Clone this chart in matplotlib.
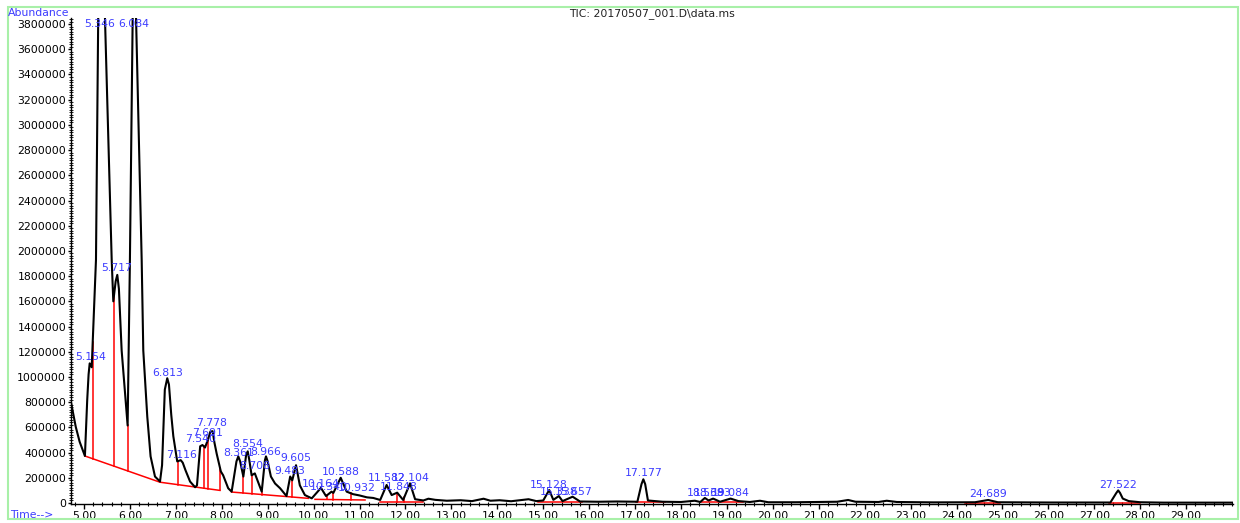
"""
plot.py - TIC chromatogram (20170507_001.D) with integration baselines

Trace vertices, baselines and peak labels are read off the reference
picture by eye; times in minutes, abundance in counts.
"""

import numpy as np
import matplotlib.pyplot as plt
from matplotlib.patches import Rectangle
from matplotlib.ticker import FixedLocator, MultipleLocator, FuncFormatter

# --- Total ion chromatogram (peak tops, shoulders and valleys) ---
trace_time = [
    4.717, 4.82, 4.905, 5.02, 5.07, 5.10, 5.124, 5.168, 5.261, 5.346,
    5.603, 5.638, 5.69, 5.725, 5.76, 5.82, 5.95, 6.00, 6.084, 6.256,
    6.291, 6.378, 6.45, 6.546, 6.655, 6.70, 6.76, 6.813, 6.85, 6.90,
    6.945, 7.03, 7.106, 7.15, 7.21, 7.31, 7.42, 7.46, 7.53, 7.58,
    7.635, 7.707, 7.75, 7.80, 7.84, 7.89, 7.98, 8.03, 8.14, 8.215,
    8.32, 8.36, 8.40, 8.47, 8.53, 8.565, 8.60, 8.65, 8.72, 8.87,
    8.94, 8.963, 9.00, 9.07, 9.16, 9.27, 9.41, 9.49, 9.535, 9.617,
    9.70, 9.81, 9.96, 10.16, 10.27, 10.39, 10.43, 10.59, 10.72, 10.86,
    11.00, 11.16, 11.30, 11.45, 11.59, 11.70, 11.82, 11.95, 12.10, 12.21,
    12.39, 12.50, 12.65, 12.90, 13.20, 13.45, 13.70, 13.85, 14.05, 14.30,
    14.68, 14.85, 15.00, 15.13, 15.22, 15.34, 15.42, 15.64, 15.80, 16.20,
    16.60, 17.05, 17.14, 17.18, 17.22, 17.28, 17.60, 18.00, 18.30, 18.42,
    18.52, 18.60, 18.70, 18.85, 19.08, 19.25, 19.50, 19.72, 19.90, 20.50,
    21.00, 21.40, 21.64, 21.80, 22.30, 22.48, 22.70, 23.50, 24.40, 24.69,
    24.90, 26.00, 27.35, 27.48, 27.52, 27.56, 27.62, 27.75, 28.00, 28.50,
    30.02,
]
trace_abund = [
    800000, 605000, 486000, 373000, 817000, 1020000, 1108000, 1077000, 1930000, 5300000,
    1930000, 1600000, 1760000, 1810000, 1700000, 1210000, 615000, 1930000, 4620000, 1930000,
    1210000, 685000, 370000, 210000, 170000, 300000, 900000, 990000, 940000, 700000,
    530000, 330000, 340000, 320000, 260000, 170000, 125000, 140000, 450000, 460000,
    440000, 510000, 565000, 570000, 480000, 390000, 250000, 220000, 117000, 90000,
    330000, 370000, 330000, 210000, 380000, 410000, 340000, 220000, 235000, 90000,
    340000, 370000, 330000, 210000, 155000, 117000, 55000, 210000, 180000, 300000,
    140000, 63000, 37000, 120000, 55000, 90000, 80000, 200000, 90000, 70000,
    60000, 45000, 40000, 24000, 143000, 63000, 82000, 24000, 156000, 30000,
    20000, 34000, 25000, 18000, 22000, 15000, 34000, 18000, 22000, 14000,
    30000, 15000, 20000, 103000, 25000, 55000, 15000, 50000, 12000, 10000,
    12000, 10000, 150000, 188000, 150000, 20000, 10000, 8000, 18000, 8000,
    40000, 20000, 35000, 10000, 35000, 15000, 8000, 18000, 6000, 6000,
    8000, 10000, 24000, 10000, 8000, 18000, 8000, 5000, 6000, 24000,
    6000, 4000, 4000, 80000, 100000, 80000, 35000, 15000, 6000, 3000,
    3000,
]

# --- Integration baselines (red), one polyline per group of peaks ---
baseline_segments = [
    [(5.02, 373000), (6.655, 165000), (7.96, 100000)],
    [(8.215, 87000), (9.885, 37000)],
    [(10.03, 29000), (11.12, 24000)],
    [(11.45, 11000), (12.39, 11000)],
    [(14.89, 6000), (15.85, 6000)],
    [(17.02, 5000), (17.65, 5000)],
    [(18.43, 5000), (19.35, 5000)],
    [(24.19, 4000), (24.95, 4000)],
    [(27.32, 4000), (28.00, 4000)],
]

# peak split lines (red drops from baseline up to the trace)
drop_times = [5.19, 5.66, 5.95, 7.054, 7.61, 7.71, 7.96, 8.47, 8.65, 8.87,
              9.54, 10.29, 10.43, 10.81, 11.81, 11.975]

# --- Peak labels (retention time) and the height their text sits at ---
peak_labels = ["5.154", "5.346", "5.717", "6.084", "6.813", "7.116", "7.540",
               "7.691", "7.778", "8.361", "8.554", "8.708", "8.966", "9.483",
               "9.605", "10.164", "10.340", "10.588", "10.932", "11.582",
               "11.848", "12.104", "15.128", "15.338", "15.657", "17.177",
               "18.538", "18.693", "19.084", "24.689", "27.522"]
label_heights = [1160000, 3800000, 1865000, 3800000, 1034000, 380000, 508000,
                 558000, 633000, 400000, 468000, 294000, 407000, 256000,
                 355000, 151000, 125000, 248000, 121000, 196000,
                 130000, 200000, 143000, 90000, 90000, 236000,
                 77000, 77000, 77000, 69000, 143000]

y_ticks = list(range(0, 3800001, 200000))
x_ticks = list(range(5, 30))

BLUE = '#3c3cff'
FONT = 7.8

plt.rcParams['font.family'] = ['DejaVu Sans']

W, H = 1240, 523
fig = plt.figure(figsize=(W / 100, H / 100), dpi=100)
ax = fig.add_axes([71 / W, (H - 504) / H, (1233 - 71) / W, (504 - 18) / H])

# baseline polylines
for seg in baseline_segments:
    ts, vs = zip(*seg)
    ax.plot(ts, vs, color='#ff0000', lw=1.1, zorder=2)

# drop lines: from the baseline below the split point up to the trace
base_t = np.concatenate([[p[0] for p in seg] for seg in baseline_segments])
base_v = np.concatenate([[p[1] for p in seg] for seg in baseline_segments])
for t in drop_times:
    lo = np.interp(t, base_t, base_v)
    hi = np.interp(t, trace_time, trace_abund)
    ax.plot([t, t], [lo, hi], color='#ff0000', lw=1.1, zorder=2)

ax.plot(trace_time, trace_abund, color='black', lw=1.5, zorder=3,
        solid_joinstyle='round')

for lab, h in zip(peak_labels, label_heights):
    ax.text(float(lab), h, lab, color=BLUE, fontsize=FONT,
            ha='center', va='center', zorder=4)

# --- Axes styling (ruler-like ticks, only left/bottom spines) ---
ax.set_xlim(4.717, 30.02)
ax.set_ylim(-7900, 3848000)
for side in ('top', 'right'):
    ax.spines[side].set_visible(False)
for side in ('left', 'bottom'):
    ax.spines[side].set_linewidth(1.0)

ax.xaxis.set_major_locator(FixedLocator(x_ticks))
ax.xaxis.set_minor_locator(MultipleLocator(0.2))
ax.xaxis.set_major_formatter(FuncFormatter(lambda v, _: f"{v:.2f}"))
ax.yaxis.set_major_locator(FixedLocator(y_ticks))
ax.yaxis.set_minor_locator(MultipleLocator(20000))
ax.yaxis.set_major_formatter(FuncFormatter(lambda v, _: f"{int(v)}"))

ax.tick_params(axis='x', which='major', direction='out', length=3.5,
               width=1, pad=1.5, labelsize=FONT)
ax.tick_params(axis='x', which='minor', direction='inout', length=3, width=0.8)
ax.tick_params(axis='y', which='major', direction='out', length=2.5,
               width=1, pad=1, labelsize=FONT)
ax.tick_params(axis='y', which='minor', direction='inout', length=2.5, width=0.6)

# --- Frame texts ---
fig.text(8 / W, 1 - 13 / H, "Abundance", color=BLUE, fontsize=FONT,
         ha='left', va='center')
fig.text(10 / W, 1 - 515 / H, "Time-->", color=BLUE, fontsize=FONT,
         ha='left', va='center')
fig.text(652 / W, 1 - 14 / H, "TIC: 20170507_001.D\\data.ms", color='#222222',
         fontsize=FONT, ha='center', va='center')

fig.patches.append(Rectangle((8 / W, 1 - 519 / H), (1238 - 8) / W, (519 - 7) / H,
                             transform=fig.transFigure, fill=False,
                             edgecolor='#a8f0a8', lw=1.5))

fig.savefig('out.png', dpi=100)
